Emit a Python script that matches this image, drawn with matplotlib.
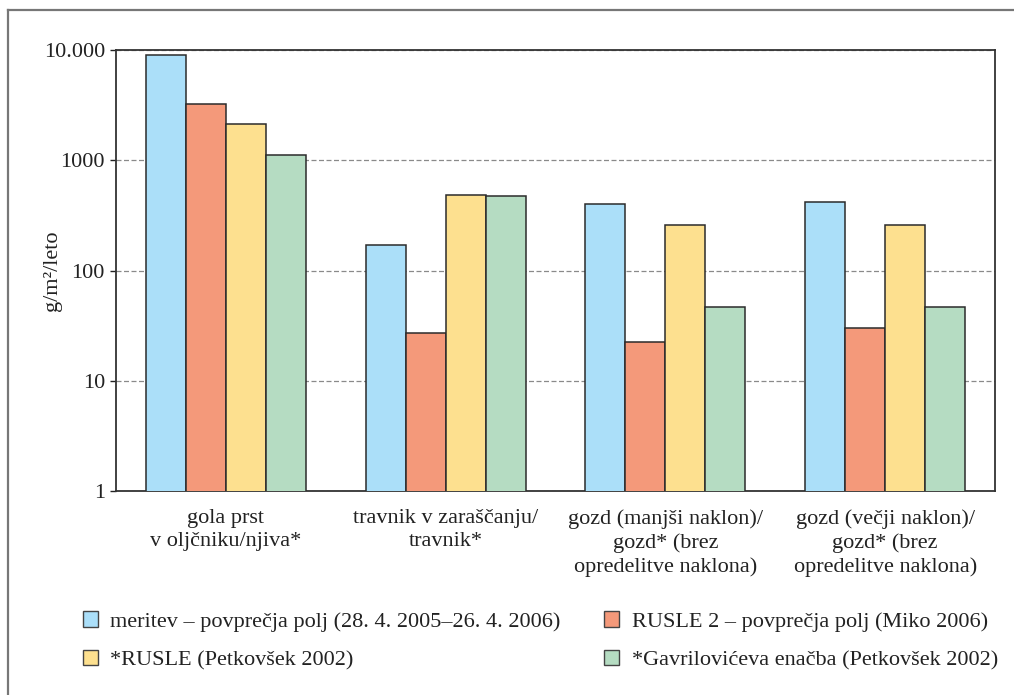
import matplotlib.pyplot as plt
import numpy as np
from matplotlib.lines import Line2D
from matplotlib.patches import Patch

plt.rcParams['font.family'] = ['Liberation Serif', 'DejaVu Serif']

# podatki: izguba tal (g/m2/leto) po rabi tal in metodi
skupine = ['gola prst\nv oljčniku/njiva*',
           'travnik v zaraščanju/\ntravnik*',
           'gozd (manjši naklon)/\ngozd* (brez\nopredelitve naklona)',
           'gozd (večji naklon)/\ngozd* (brez\nopredelitve naklona)']
meritev = [9000, 170, 400, 420]
rusle2 = [3250, 27, 22.5, 30]
rusle = [2150, 485, 260, 260]
gavrilovic = [1110, 475, 47, 47]

imena = ['meritev – povprečja polj (28. 4. 2005–26. 4. 2006)',
         'RUSLE 2 – povprečja polj (Miko 2006)',
         '*RUSLE (Petkovšek 2002)',
         '*Gavrilovićeva enačba (Petkovšek 2002)']
barve = ['#abdff9', '#f4997a', '#fde08f', '#b5dcc2']
oznake_y = ['1', '10', '100', '1000', '10.000']

fs = 16
fig = plt.figure(figsize=(10.14, 6.95), dpi=100)
ax = fig.add_axes([0.1144, 0.2935, 0.8669, 0.6345])

x = np.arange(len(skupine))
w = 40 / 220
serije = [meritev, rusle2, rusle, gavrilovic]
for i, (vrednosti, barva) in enumerate(zip(serije, barve)):
    ax.bar(x + (i - 1.5) * w, vrednosti, w, color=barva,
           edgecolor='#2b2b2b', linewidth=1.1, zorder=3)

ax.set_yscale('log')
ax.set_ylim(1, 10000)
ax.set_xlim(-0.5, 3.5)
ax.set_yticks([1, 10, 100, 1000, 10000])
ax.set_yticklabels(oznake_y)
ax.minorticks_off()
ax.yaxis.grid(True, linestyle=(0, (4, 2)), color='#8a8a8a', linewidth=0.9, zorder=0)
ax.set_axisbelow(True)

ax.set_xticks(x)
ax.set_xticklabels(skupine, linespacing=1.28)
ax.tick_params(axis='x', length=0, pad=13, labelsize=fs, colors='#222222')
ax.tick_params(axis='y', length=4.5, width=1, pad=3.5, labelsize=fs,
               colors='#222222', direction='out')
for s in ax.spines.values():
    s.set_color('#333333')
    s.set_linewidth(1.3)

ax.set_ylabel('g/m²/leto', fontsize=fs, color='#222222')
ax.yaxis.set_label_coords(-0.0614, 0.5)

# legenda v dveh stolpcih
def ikona(barva):
    return Patch(facecolor=barva, edgecolor='#444444', linewidth=1)

kw = dict(frameon=False, fontsize=fs, handlelength=0.68, handleheight=0.68,
          handletextpad=0.55, labelspacing=0.83, borderpad=0, labelcolor='#222222')
fig.legend([ikona(barve[0]), ikona(barve[2])], [imena[0], imena[2]],
           loc='upper left', bbox_to_anchor=(0.071, 0.1365), **kw)
fig.legend([ikona(barve[1]), ikona(barve[3])], [imena[1], imena[3]],
           loc='upper left', bbox_to_anchor=(0.585, 0.1365), **kw)

# okvir slike (zgoraj in levo)
fig.add_artist(Line2D([8 / 1014, 8 / 1014], [0, 1 - 10 / 695],
                      transform=fig.transFigure, color='#777777', linewidth=1.6))
fig.add_artist(Line2D([8 / 1014, 1], [1 - 10 / 695, 1 - 10 / 695],
                      transform=fig.transFigure, color='#777777', linewidth=1.6))

fig.savefig('out.png', dpi=100)
